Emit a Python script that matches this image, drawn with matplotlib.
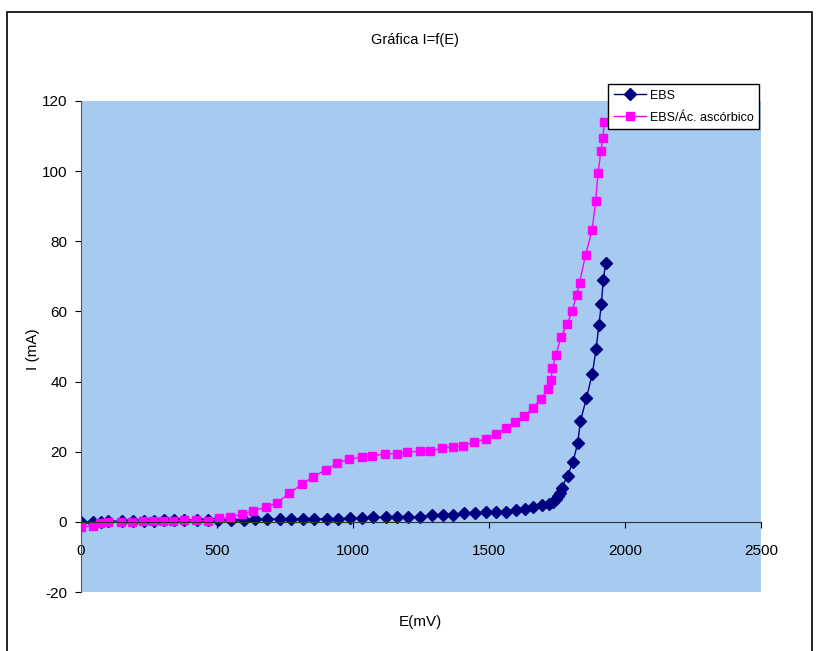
import matplotlib.pyplot as plt
from matplotlib.patches import Rectangle

plt.rcParams['font.family'] = ['Liberation Sans', 'DejaVu Sans']
plt.rcParams['axes.unicode_minus'] = False

# EBS series (E in mV, I in mA)
ebs_e = [0, 45, 75, 100, 150, 190, 230, 270, 305, 340, 380, 425, 465, 505, 550,
         600, 640, 685, 730, 772, 816, 857, 904, 945, 989, 1033, 1074, 1121, 1162,
         1202, 1246, 1290, 1331, 1368, 1408, 1449, 1489, 1526, 1562, 1599, 1632,
         1662, 1695, 1720, 1735, 1745, 1752, 1760, 1768, 1789, 1809, 1826, 1836,
         1858, 1880, 1894, 1904, 1913, 1920, 1929]
ebs_i = [0.0, 0.1, 0.1, 0.2, 0.2, 0.3, 0.3, 0.3, 0.4, 0.4, 0.4, 0.5, 0.5, 0.5, 0.6,
         0.6, 0.7, 0.7, 0.8, 0.8, 0.8, 0.8, 0.9, 0.9, 1.0, 1.1, 1.3, 1.3, 1.3,
         1.3, 1.5, 2.0, 2.0, 2.0, 2.5, 2.5, 2.7, 2.8, 2.9, 3.4, 3.6,
         4.2, 4.8, 5.2, 5.8, 6.5, 7.3, 8.2, 9.7, 13.2, 17.2, 22.4, 28.7,
         35.2, 42.3, 49.4, 56.1, 62.1, 69.0, 73.8]

# EBS / ascorbic acid series
asc_e = [0, 43, 71, 100, 147, 186, 227, 263, 300, 339, 380, 423, 466, 508, 549,
         593, 633, 679, 722, 766, 814, 854, 900, 940, 986, 1032, 1071, 1118, 1161,
         1200, 1246, 1283, 1328, 1369, 1406, 1445, 1488, 1525, 1561, 1596, 1629,
         1661, 1692, 1716, 1728, 1733, 1746, 1765, 1788, 1806, 1822, 1833, 1855,
         1879, 1892, 1901, 1911, 1919, 1924]
asc_i = [-1.5, -1.1, -0.4, -0.1, -0.1, -0.1, 0.3, 0.3, 0.3, 0.3, 0.4, 0.4, 0.3, 1.0, 1.3,
         2.2, 3.2, 4.1, 5.5, 8.2, 10.8, 12.9, 14.8, 16.7, 17.9, 18.4, 18.8, 19.4, 19.4,
         19.8, 20.2, 20.2, 21.0, 21.4, 21.7, 22.8, 23.6, 25.0, 26.7, 28.6, 30.2,
         32.4, 35.1, 37.8, 40.5, 43.8, 47.6, 52.8, 56.4, 60.2, 64.7, 68.2, 76.1,
         83.2, 91.5, 99.4, 105.6, 109.5, 114.1]

x_ticks = [0, 500, 1000, 1500, 2000, 2500]
y_ticks = [-20, 0, 20, 40, 60, 80, 100, 120]

fig = plt.figure(figsize=(8.16, 6.51), dpi=100)
ax = fig.add_axes([0.0993, 0.0906, 0.8333, 0.7543])
ax.set_facecolor('#A6CAF0')

# outer chart frame
fig.patches.append(Rectangle((7 / 816, -0.05), 805 / 816, 1 - 12 / 651 + 0.05,
                             transform=fig.transFigure, fill=False,
                             edgecolor='black', linewidth=1.2))

ax.plot(ebs_e, ebs_i, color='#000080', marker='D', markersize=5.8,
        linewidth=1, label='EBS')
ax.plot(asc_e, asc_i, color='#FF00FF', marker='s', markersize=5.5,
        linewidth=1, label='EBS/Ác. ascórbico')

ax.set_xlim(0, 2500)
ax.set_ylim(-20, 120)
ax.set_xticks(x_ticks)
ax.set_yticks(y_ticks)

for s in ['top', 'right']:
    ax.spines[s].set_visible(False)
ax.spines['bottom'].set_position(('data', 0))
ax.spines['bottom'].set_color('#333333')
ax.spines['left'].set_color('#555555')
ax.tick_params(axis='x', direction='out', length=4, labelsize=11, pad=12)
ax.tick_params(axis='y', direction='out', length=4, labelsize=11, pad=6)

fig.text(0.509, 0.938, 'Gráfica I=f(E)', ha='center', va='center', fontsize=10.5)
fig.text(0.515, 0.044, 'E(mV)', ha='center', va='center', fontsize=11)
fig.text(0.041, 0.463, 'I (mA)', ha='center', va='center', fontsize=11,
         rotation=90)

leg = fig.legend(loc='upper left', bbox_to_anchor=(608 / 816, 1 - 84 / 651),
                 fontsize=9, frameon=True, fancybox=False, edgecolor='black',
                 framealpha=1, borderpad=0.45, handlelength=2.6, labelspacing=0.8,
                 handletextpad=0.3, borderaxespad=0)
leg.get_frame().set_linewidth(1)

fig.savefig('out.png', dpi=100)
